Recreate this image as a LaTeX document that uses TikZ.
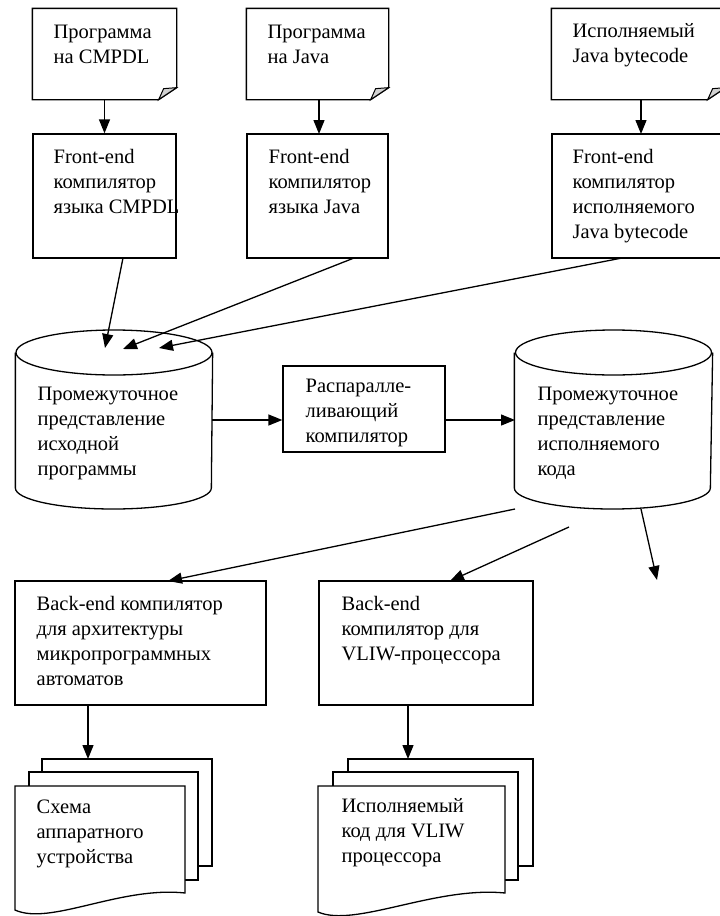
\documentclass[tikz,border=0pt]{standalone}
\usepackage{fontspec}
\setmainfont{Liberation Serif}
\usetikzlibrary{arrows.meta,calc}
\begin{document}
\begin{tikzpicture}[x=1pt,y=1pt,
  line width=1.3pt,
  box/.style={draw, rectangle, inner sep=0pt, line width=1.3pt},
  ghost/.style={rectangle, inner sep=0pt},
  txt/.style={anchor=base west, align=left, inner sep=0pt, font=\fontsize{20.5}{25}\selectfont},
  arr/.style={-{Triangle[length=14pt,width=11pt]}, line width=1.3pt},
  sheet/.style={draw, fill=white, line width=1.3pt},
  fold/.style={draw, fill=gray!35, line width=1pt},
  ]
\useasboundingbox (0,0) rectangle (720,-916);
\clip (0,0) rectangle (720,-916);

% ---------- top documents ----------
\node[ghost, minimum width=143pt, minimum height=90pt] (d1) at (104.5,-54) {};
\node[ghost, minimum width=141pt, minimum height=90pt] (d2) at (317.5,-54) {};
\node[ghost, minimum width=173pt, minimum height=90pt] (d3) at (638.5,-54) {};
\foreach \d in {d1,d2,d3}{
  \draw (\d.north west) -- (\d.north east) -- ($(\d.south east)+(0,12)$)
        -- ($(\d.south east)+(-18,0)$) -- (\d.south west) -- cycle;
  \draw[fold] ($(\d.south east)+(0,12)$) -- ($(\d.south east)+(-13,11)$)
        -- ($(\d.south east)+(-18,0)$) -- cycle;
}
% base of last line = first baseline + 25*(lines-1)
\node[txt] (t1) at (53,-63) {Программа\\на CMPDL};
\node[txt] (t2) at (267,-63) {Программа\\на Java};
\node[txt] (t3) at (572,-62) {Исполняемый\\Java bytecode};

% ---------- front-end boxes ----------
\node[box, minimum width=143pt, minimum height=124pt] (f1) at (104.5,-196) {};
\node[box, minimum width=141pt, minimum height=124pt] (f2) at (317.5,-196) {};
\node[box, minimum width=173pt, minimum height=124pt] (f3) at (638.5,-196) {};
\node[txt] (tf1) at (53,-213) {Front-end\\компилятор\\языка CMPDL};
\node[txt] (tf2) at (268,-213) {Front-end\\компилятор\\языка Java};
\node[txt] (tf3) at (572,-238) {Front-end\\компилятор\\исполняемого\\Java bytecode};

\draw[arr] (d1.south) -- (f1.north);
\draw[arr] (319,-99) coordinate (d2o) -- (319,-134) coordinate (f2i);
\draw[arr] (641,-99) coordinate (d3o) -- (641,-134) coordinate (f3i);

% ---------- cylinders ----------
\node[ghost, minimum width=196pt, minimum height=178pt] (c1) at (114,-419) {};
\node[ghost, minimum width=197pt, minimum height=178pt] (c2) at (613.5,-419) {};
\foreach \c in {c1,c2}{
  \draw ($(\c.west)+(0,66.5)$) -- ($(\c.west)+(0,-69)$)
     arc[start angle=180, end angle=360, x radius=98, y radius=21]
     -- ($(\c.east)+(0,66.5)$);
  \draw ($(\c.center)+(0,66.5)$) ellipse [x radius=98, y radius=22.5];
}
\node[txt] (tc1) at (37,-475) {Промежуточное\\представление\\исходной\\программы};
\node[txt] (tc2) at (537,-475) {Промежуточное\\представление\\исполняемого\\кода};

% ---------- middle box ----------
\node[box, minimum width=162pt, minimum height=86pt] (m) at (364,-409) {};
\node[txt] (tm) at (305,-442) {Распаралле-\\ливающий\\компилятор};

% arrows into c1
\coordinate (f1o) at (123,-258);
\coordinate (f2o) at (354,-258);
\coordinate (f3o) at (622,-258);
\coordinate (c1a) at (105,-348);
\coordinate (c1b) at (123,-349);
\coordinate (c1c) at (159,-348);
\draw[arr] (f1o) -- (c1a);
\draw[arr] (f2o) -- (c1b);
\draw[arr] (f3o) -- (c1c);

% c1 -> m -> c2
\coordinate (c1r) at (212,-420);
\coordinate (c2l) at (515,-420);
\draw[arr] (c1r) -- (c1r -| m.west);
\draw[arr] (c2l -| m.east) -- (c2l);

% ---------- back-end boxes ----------
\node[box, minimum width=251pt, minimum height=124pt] (b1) at (140.5,-643) {};
\node[box, minimum width=214pt, minimum height=124pt] (b2) at (426,-643) {};
\node[txt] (tb1) at (36,-685) {Back-end компилятор\\для архитектуры\\микропрограммных\\автоматов};
\node[txt] (tb2) at (341,-660) {Back-end\\компилятор для\\VLIW-процессора};

\coordinate (c2o1) at (515,-509);
\coordinate (c2o2) at (569,-527);
\coordinate (c2o3) at (641,-509);
\coordinate (b1i) at (168,-581);
\coordinate (b2i) at (450,-581);
\coordinate (free) at (657,-580);
\draw[arr] (c2o1) -- (b1i);
\draw[arr] (c2o2) -- (b2i);
\draw[arr] (c2o3) -- (free);

% ---------- multi-documents ----------
\node[ghost, minimum width=197pt, minimum height=157pt] (mA) at (113.5,-837.5) {};
\node[ghost, minimum width=215pt, minimum height=157pt] (mB) at (425.5,-837.5) {};
\draw[sheet] (42,-759) rectangle (212,-866);
\draw[sheet] (29,-772) rectangle (198,-880);
\draw[sheet] (15,-786) -- (185,-786) -- (185,-893)
   .. controls (120,-886) and (50,-926) .. (15,-910) -- cycle;
\draw[sheet] (348,-759) rectangle (533,-866);
\draw[sheet] (333,-772) rectangle (518,-880);
\draw[sheet] (318,-786) -- (505,-786) -- (505,-893)
   .. controls (435,-886) and (355,-928) .. (318,-912) -- cycle;
\node[txt] (tA) at (36,-863) {Схема\\аппаратного\\устройства};
\node[txt] (tB) at (341,-862) {Исполняемый\\код для VLIW\\процессора};

\coordinate (b1o) at (88,-705);
\coordinate (b2o) at (408,-705);
\draw[arr] (b1o) -- (88,-759) coordinate (mAi);
\draw[arr] (b2o) -- (408,-759) coordinate (mBi);
\end{tikzpicture}
\end{document}
